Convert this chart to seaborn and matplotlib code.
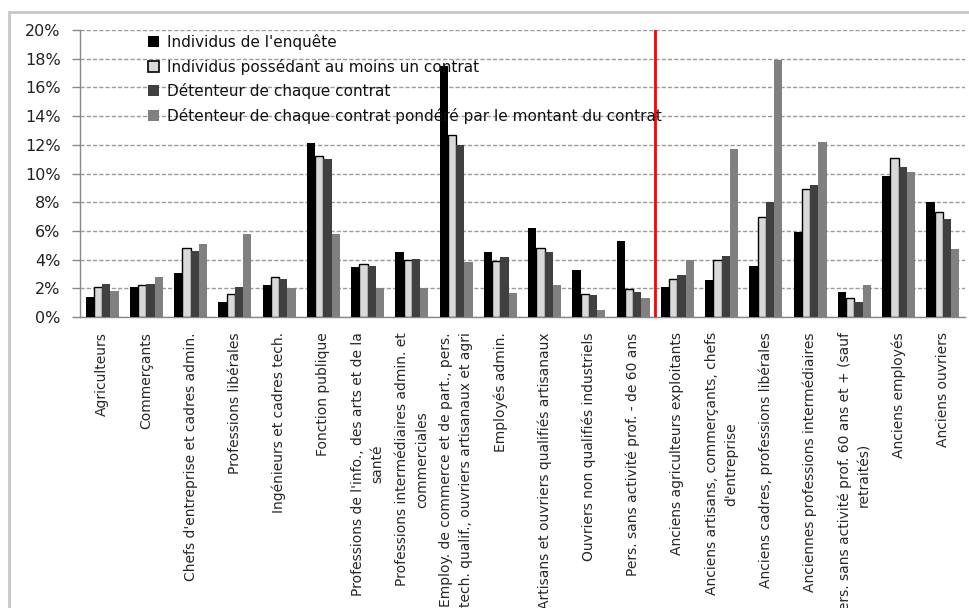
import matplotlib
matplotlib.use("Agg")
import matplotlib.pyplot as plt
import seaborn as sns
import pandas as pd
from matplotlib.patches import Rectangle

categories = [
    "Agriculteurs",
    "Commerçants",
    "Chefs d'entreprise et cadres admin.",
    "Professions libérales",
    "Ingénieurs et cadres tech.",
    "Fonction publique",
    "Professions de l'info., des arts et de la\nsanté",
    "Professions intermédiaires admin. et\ncommerciales",
    "Employ. de commerce et de part., pers.\ntech. qualif., ouvriers artisanaux et agri",
    "Employés admin.",
    "Artisans et ouvriers qualifiés artisanaux",
    "Ouvriers non qualifiés industriels",
    "Pers. sans activité prof. - de 60 ans",
    "Anciens agriculteurs exploitants",
    "Anciens artisans, commerçants, chefs\nd'entreprise",
    "Anciens cadres, professions libérales",
    "Anciennes professions intermédiaires",
    "Pers. sans activité prof. 60 ans et + (sauf\nretraités)",
    "Anciens employés",
    "Anciens ouvriers",
]

series_names = [
    "Individus de l'enquête",
    "Individus possédant au moins un contrat",
    "Détenteur de chaque contrat",
    "Détenteur de chaque contrat pondéré par le montant du contrat",
]

individus = [1.4, 2.1, 3.1, 1.05, 2.2, 12.1, 3.5, 4.5, 17.5, 4.5, 6.2, 3.25, 5.3,
             2.1, 2.55, 3.55, 5.9, 1.75, 9.8, 8.0]
possedant = [2.1, 2.2, 4.8, 1.6, 2.8, 11.2, 3.7, 4.0, 12.7, 3.9, 4.8, 1.6, 1.95,
             2.65, 4.0, 7.0, 8.9, 1.3, 11.1, 7.3]
detenteur = [2.3, 2.3, 4.6, 2.1, 2.65, 11.0, 3.55, 4.05, 12.0, 4.15, 4.5, 1.55, 1.75,
             2.9, 4.25, 8.0, 9.2, 1.05, 10.45, 6.8]
pondere = [1.8, 2.8, 5.1, 5.8, 2.0, 5.8, 2.0, 2.0, 3.8, 1.65, 2.2, 0.5, 1.3,
           4.0, 11.7, 17.9, 12.2, 2.2, 10.1, 4.75]

y_ticks = [0, 2, 4, 6, 8, 10, 12, 14, 16, 18, 20]
y_tick_labels = [f"{v}%" for v in y_ticks]

colors = ["#000000", "#d9d9d9", "#404040", "#808080"]

rows = []
for name, vals in zip(series_names, [individus, possedant, detenteur, pondere]):
    for c, v in zip(categories, vals):
        rows.append({"cat": c, "val": v, "serie": name})
df = pd.DataFrame(rows)

sns.set_style("white")
plt.rcParams["font.family"] = ["DejaVu Sans"]

fig = plt.figure(figsize=(9.7, 6.08), dpi=100)
W, H = 970, 608
ax = fig.add_axes([80 / W, 1 - 317 / H, 885 / W, 287 / H])

sns.barplot(data=df, x="cat", y="val", hue="serie", palette=colors,
            order=categories, hue_order=series_names, width=0.75,
            saturation=1, ax=ax, zorder=3, legend=True)

for cont, name in zip(ax.containers, series_names):
    for bar in cont:
        if name == series_names[1]:
            bar.set_edgecolor("black")
            bar.set_linewidth(1.0)
        else:
            bar.set_edgecolor("none")

ax.set_xlim(-0.5, len(categories) - 0.5)
ax.set_ylim(0, 20)
ax.set_yticks(y_ticks)
ax.set_yticklabels(y_tick_labels, fontsize=11.5, color="#222222")
ax.yaxis.grid(True, linestyle=(0, (3, 1.5)), color="#9a9a9a", linewidth=1.0, zorder=0)
ax.set_axisbelow(True)
ax.set_xlabel("")
ax.set_ylabel("")

ax.set_xticks(range(len(categories)))
ax.set_xticklabels(categories, rotation=90, ha="center", va="top",
                   fontsize=10, linespacing=1.55, multialignment="center")
ax.set_xticks([i + 0.5 for i in range(-1, len(categories))], minor=True)
ax.tick_params(axis="x", which="major", length=0, pad=11)
ax.tick_params(axis="x", which="minor", length=6, color="#888888", width=1)
ax.tick_params(axis="y", which="major", length=6, color="#888888", width=1, left=True, pad=8)

for s in ["top", "right"]:
    ax.spines[s].set_visible(False)
for s in ["left", "bottom"]:
    ax.spines[s].set_color("#888888")
    ax.spines[s].set_linewidth(1.0)

ax.axvline(12.5, color="red", linewidth=2, zorder=4)

handles, labels = ax.get_legend_handles_labels()
leg = ax.legend(handles, labels, loc="upper left",
                bbox_to_anchor=(148 / W, 1 - 34 / H), bbox_transform=fig.transFigure,
                frameon=False, fontsize=11, handlelength=0.75, handleheight=0.75,
                handletextpad=0.5, labelspacing=0.56, borderpad=0, borderaxespad=0)
for i, h in enumerate(leg.legend_handles):
    if i == 1:
        h.set_edgecolor("black")
        h.set_linewidth(1.2)
    else:
        h.set_edgecolor("none")
for t in leg.get_texts():
    t.set_color("#111111")

fig.patches.append(Rectangle((9 / W, -0.1), 1.2, 1 - 12 / H + 0.1, transform=fig.transFigure,
                             fill=False, edgecolor="#c8c8c8", linewidth=2, zorder=0))

fig.savefig("out.png", dpi=100)
